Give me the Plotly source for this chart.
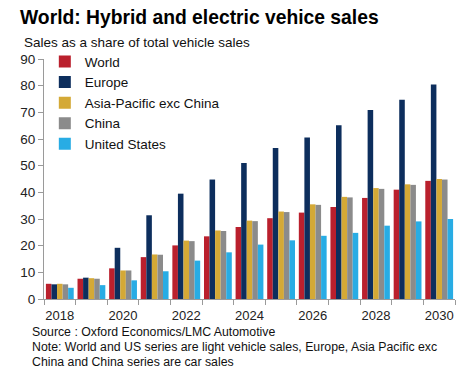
import plotly.graph_objects as go

years = list(range(2018, 2031))
world = [5.7, 7.6, 11.5, 15.7, 20.1, 23.5, 27.0, 30.3, 32.4, 34.5, 37.9, 41.0, 44.3]
europe = [5.5, 8.0, 19.2, 31.4, 39.5, 44.8, 51.0, 56.6, 60.6, 65.2, 70.9, 74.7, 80.4]
asia_pac = [5.7, 7.8, 10.7, 16.7, 21.9, 25.7, 29.4, 32.8, 35.5, 38.3, 41.6, 43.0, 45.0]
china = [5.5, 7.6, 10.7, 16.6, 21.7, 25.5, 29.2, 32.6, 35.3, 38.1, 41.3, 42.8, 44.8]
usa = [4.2, 5.2, 7.0, 10.4, 14.4, 17.5, 20.4, 22.0, 23.7, 24.8, 27.5, 29.1, 30.0]

series = [
    ("World", world, "#BA202D"),
    ("Europe", europe, "#0D2E5D"),
    ("Asia-Pacific exc China", asia_pac, "#D4A936"),
    ("China", china, "#8B8B8B"),
    ("United States", usa, "#28ACE4"),
]

x_labels = ["2018", "2020", "2022", "2024", "2026", "2028", "2030"]
x_label_vals = [int(v) for v in x_labels]
y_ticks = list(range(0, 91, 10))

footer_lines = [
    "Source : Oxford Economics/LMC Automotive",
    "Note: World and US series are light vehicle sales, Europe, Asia Pacific exc",
    "China and China series are car sales",
]

FONT = "Liberation Sans, Arial, sans-serif"

# page body has an 8px default margin: plot coordinates are offset accordingly
OFF = 8
L, T, PW, PH = 27, 51, 420, 240


def py(page_y):
    """paper y for a page-pixel y coordinate"""
    return 1 - (page_y - OFF - T) / PH


def px(page_x):
    return (page_x - OFF - L) / PW


fig = go.Figure()
for name, vals, col in series:
    fig.add_trace(go.Bar(x=years, y=vals, name=name, marker=dict(color=col, line=dict(width=0))))

fig.update_layout(
    width=474, height=372,
    margin=dict(l=L, r=474 - L - PW, t=T, b=372 - T - PH),
    paper_bgcolor="white", plot_bgcolor="white",
    barmode="group", bargap=0.12, bargroupgap=0,
    font=dict(family=FONT, size=13, color="#222222"),
    showlegend=True,
    legend=dict(x=0.002, y=1.053, xanchor="left", yanchor="top",
                bgcolor="rgba(0,0,0,0)", font=dict(size=13.5, color="#111111"),
                itemwidth=30, tracegroupgap=0),
    xaxis=dict(range=[2017.5, 2030.5], tickmode="array", tickvals=x_label_vals,
               ticktext=x_labels, ticks="", showgrid=False, showline=True,
               linecolor="#9a9a9a", linewidth=1, zeroline=False,
               ticklabelstandoff=4,
               tickfont=dict(size=13, color="#222222"),
               minor=dict(ticks="outside", tick0=2017.5, dtick=1, ticklen=5,
                          tickcolor="#9a9a9a", showgrid=False)),
    yaxis=dict(range=[0, 90], tickmode="array", tickvals=y_ticks, ticks="outside",
               ticklen=5, tickcolor="#9a9a9a", showgrid=False, showline=True,
               linecolor="#9a9a9a", linewidth=1, zeroline=False,
               tickfont=dict(size=13.5, color="#222222")),
)

fig.add_annotation(text="<b>World: Hybrid and electric vehice sales</b>", xref="paper", yref="paper",
                   x=px(8), y=py(18), xanchor="left", yanchor="middle",
                   showarrow=False, font=dict(size=19.3, color="#000000"))
fig.add_annotation(text="Sales as a share of total vehicle sales", xref="paper", yref="paper",
                   x=px(13), y=py(42), xanchor="left", yanchor="middle",
                   showarrow=False, font=dict(size=13.5, color="#111111"))
for i, line in enumerate(footer_lines):
    fig.add_annotation(text=line, xref="paper", yref="paper", x=px(21), y=py(332 + 14.8 * i),
                       xanchor="left", yanchor="middle", align="left", showarrow=False,
                       font=dict(size=12.3, color="#111111"))

fig.write_html("out.html")
